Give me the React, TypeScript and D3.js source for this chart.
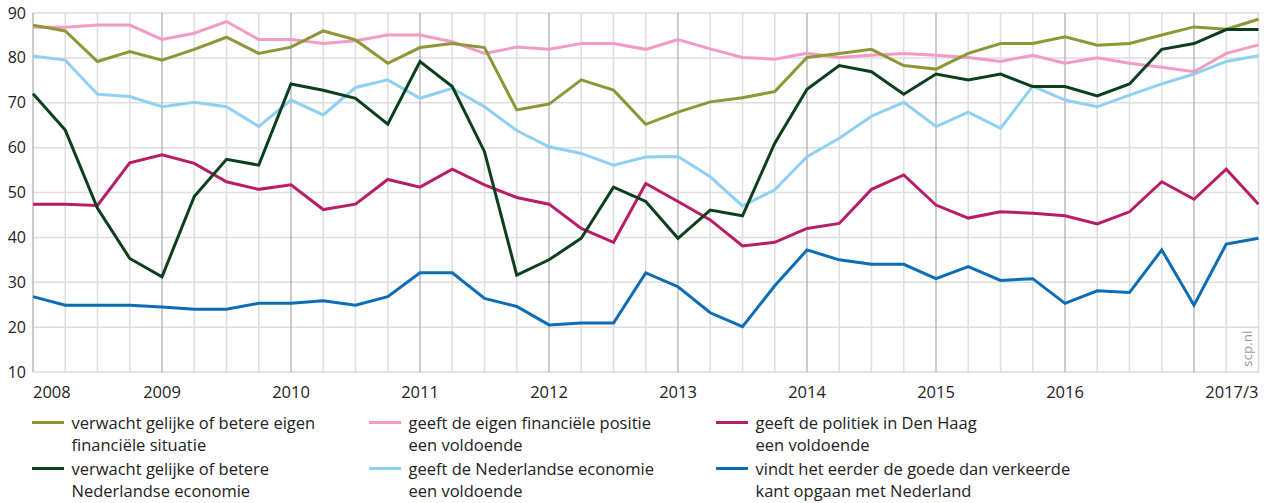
import React from "react";
import * as d3 from "d3";

const quarters = d3.range(39); // 2008 Q1 .. 2017 Q3
const yearTicks = [2008, 2009, 2010, 2011, 2012, 2013, 2014, 2015, 2016];
const lastLabel = "2017/3";
const yTicks = [10, 20, 30, 40, 50, 60, 70, 80, 90];

const eigenSituatie = [87.3, 86.0, 79.2, 81.4, 79.5, 81.9, 84.6, 81.0, 82.4, 86.0, 84.0, 78.8, 82.3, 83.2, 82.3, 68.4, 69.7, 75.1, 72.8, 65.2, 67.9, 70.2, 71.1, 72.5, 80.1, 81.0, 81.9, 78.3, 77.5, 81.0, 83.2, 83.2, 84.7, 82.8, 83.2, 85.1, 86.9, 86.4, 88.6];
const eigenPositie = [86.8, 86.8, 87.3, 87.3, 84.1, 85.5, 88.1, 84.1, 84.1, 83.2, 83.8, 85.1, 85.1, 83.6, 81.0, 82.4, 81.9, 83.2, 83.2, 81.9, 84.1, 82.0, 80.1, 79.7, 81.0, 80.1, 80.6, 81.0, 80.6, 80.1, 79.2, 80.6, 78.8, 80.0, 78.8, 77.9, 76.9, 81.0, 82.9];
const politiek = [47.4, 47.4, 47.1, 56.6, 58.4, 56.5, 52.4, 50.7, 51.7, 46.2, 47.4, 52.9, 51.2, 55.2, 51.7, 48.9, 47.4, 42.0, 38.9, 52.0, 48.0, 43.9, 38.1, 38.9, 42.0, 43.1, 50.7, 53.9, 47.2, 44.3, 45.7, 45.4, 44.8, 43.0, 45.7, 52.4, 48.5, 55.2, 47.4];
const nlEconomieVerwacht = [72.0, 63.9, 46.5, 35.3, 31.2, 49.1, 57.4, 56.1, 74.2, 72.8, 71.0, 65.2, 79.2, 73.6, 59.1, 31.6, 35.0, 39.8, 51.2, 48.0, 39.8, 46.1, 44.8, 61.0, 73.0, 78.3, 76.9, 71.9, 76.4, 75.1, 76.4, 73.6, 73.6, 71.5, 74.2, 81.9, 83.2, 86.3, 86.3];
const nlEconomieVoldoende = [80.4, 79.5, 71.9, 71.4, 69.1, 70.1, 69.1, 64.7, 70.6, 67.3, 73.4, 75.1, 71.0, 73.2, 69.1, 63.8, 60.2, 58.7, 56.1, 57.9, 58.0, 53.5, 47.0, 50.6, 58.0, 62.1, 67.0, 70.1, 64.7, 67.9, 64.3, 73.7, 70.6, 69.1, 71.7, 74.2, 76.4, 79.2, 80.5];
const goedeKant = [26.8, 24.9, 24.9, 24.9, 24.5, 24.0, 24.0, 25.3, 25.3, 25.9, 24.9, 26.8, 32.1, 32.1, 26.4, 24.6, 20.5, 20.9, 20.9, 32.1, 29.0, 23.2, 20.1, 29.2, 37.2, 35.0, 34.0, 34.0, 30.8, 33.5, 30.4, 30.8, 25.3, 28.1, 27.7, 37.2, 24.9, 38.5, 39.8];

const seriesNames = [
  ["verwacht gelijke of betere eigen", "financiële situatie"],
  ["geeft de eigen financiële positie", "een voldoende"],
  ["geeft de politiek in Den Haag", "een voldoende"],
  ["verwacht gelijke of betere", "Nederlandse economie"],
  ["geeft de Nederlandse economie", "een voldoende"],
  ["vindt het eerder de goede dan verkeerde", "kant opgaan met Nederland"],
];
const seriesValues = [eigenSituatie, eigenPositie, politiek, nlEconomieVerwacht, nlEconomieVoldoende, goedeKant];
const seriesColors = ["#8d9738", "#f29cc4", "#b81e66", "#0c3f1e", "#8fd0f3", "#0b6db4"];
// drawing order (back to front)
const drawOrder = [4, 1, 0, 2, 3, 5];

const W = 1266;
const H = 503;
const left = 33;
const right = 1258.5;
const top = 13;
const bottom = 372;
const FONT = "'Open Sans', 'Noto Sans', sans-serif";

export default function App() {
  const x = d3.scaleLinear().domain([0, 38]).range([left, right]);
  const y = d3.scaleLinear().domain([10, 90]).range([bottom, top]);
  const line = d3
    .line<number>()
    .x((_, i) => x(i))
    .y((v) => y(v));

  const legendCols = [32, 369, 716];
  const legendRows = [422.5, 468.5];

  return (
    <svg width={W} height={H} style={{ position: "absolute", left: 0, top: 0 }} fontFamily={FONT}>
      <rect width={W} height={H} fill="#fff" />
      {/* horizontal grid */}
      {yTicks.map((t) => (
        <line key={"h" + t} x1={left} x2={right + 1} y1={y(t)} y2={y(t)} stroke="#dedede" strokeWidth={1.5} />
      ))}
      {/* vertical grid */}
      {quarters.slice(1).map((q) => (
        <line
          key={"v" + q}
          x1={x(q)}
          x2={x(q)}
          y1={top}
          y2={bottom}
          stroke={q % 4 === 0 ? "#a9a9a9" : "#dedede"}
          strokeWidth={q % 4 === 0 ? 1.2 : 1.5}
        />
      ))}
      <line x1={left} x2={left} y1={top} y2={bottom} stroke="#a9a9a9" strokeWidth={1.2} />
      {/* y labels */}
      {yTicks.map((t) => (
        <text key={"yl" + t} x={26} y={y(t) + 5.5} textAnchor="end" fontSize={16} fill="#222">
          {t}
        </text>
      ))}
      {/* x labels */}
      {yearTicks.map((yr, i) => (
        <text
          key={"xl" + yr}
          x={x(i * 4)}
          y={397.5}
          textAnchor={i === 0 ? "start" : "middle"}
          fontSize={16.5}
          fill="#222"
        >
          {yr}
        </text>
      ))}
      <text x={x(38)} y={397.5} textAnchor="end" fontSize={16.5} fill="#222">
        {lastLabel}
      </text>
      {/* series */}
      {drawOrder.map((s) => (
        <path
          key={"s" + s}
          d={line(seriesValues[s]) || ""}
          fill="none"
          stroke={seriesColors[s]}
          strokeWidth={3}
          strokeLinejoin="miter"
        />
      ))}
      {/* watermark */}
      <text transform={`translate(1252, 367) rotate(-90)`} fontSize={13.5} fill="#9a9a9a">
        scp.nl
      </text>
      {/* legend */}
      {seriesNames.map((names, i) => {
        const cx = legendCols[i % 3];
        const cy = legendRows[Math.floor(i / 3)];
        return (
          <g key={"lg" + i}>
            <line x1={cx} x2={cx + 32} y1={cy} y2={cy} stroke={seriesColors[i]} strokeWidth={3} />
            <text x={cx + 39.5} y={cy + 6.5} fontSize={16.5} fill="#222">
              {names[0]}
            </text>
            <text x={cx + 39.5} y={cy + 28} fontSize={16.5} fill="#222">
              {names[1]}
            </text>
          </g>
        );
      })}
    </svg>
  );
}
